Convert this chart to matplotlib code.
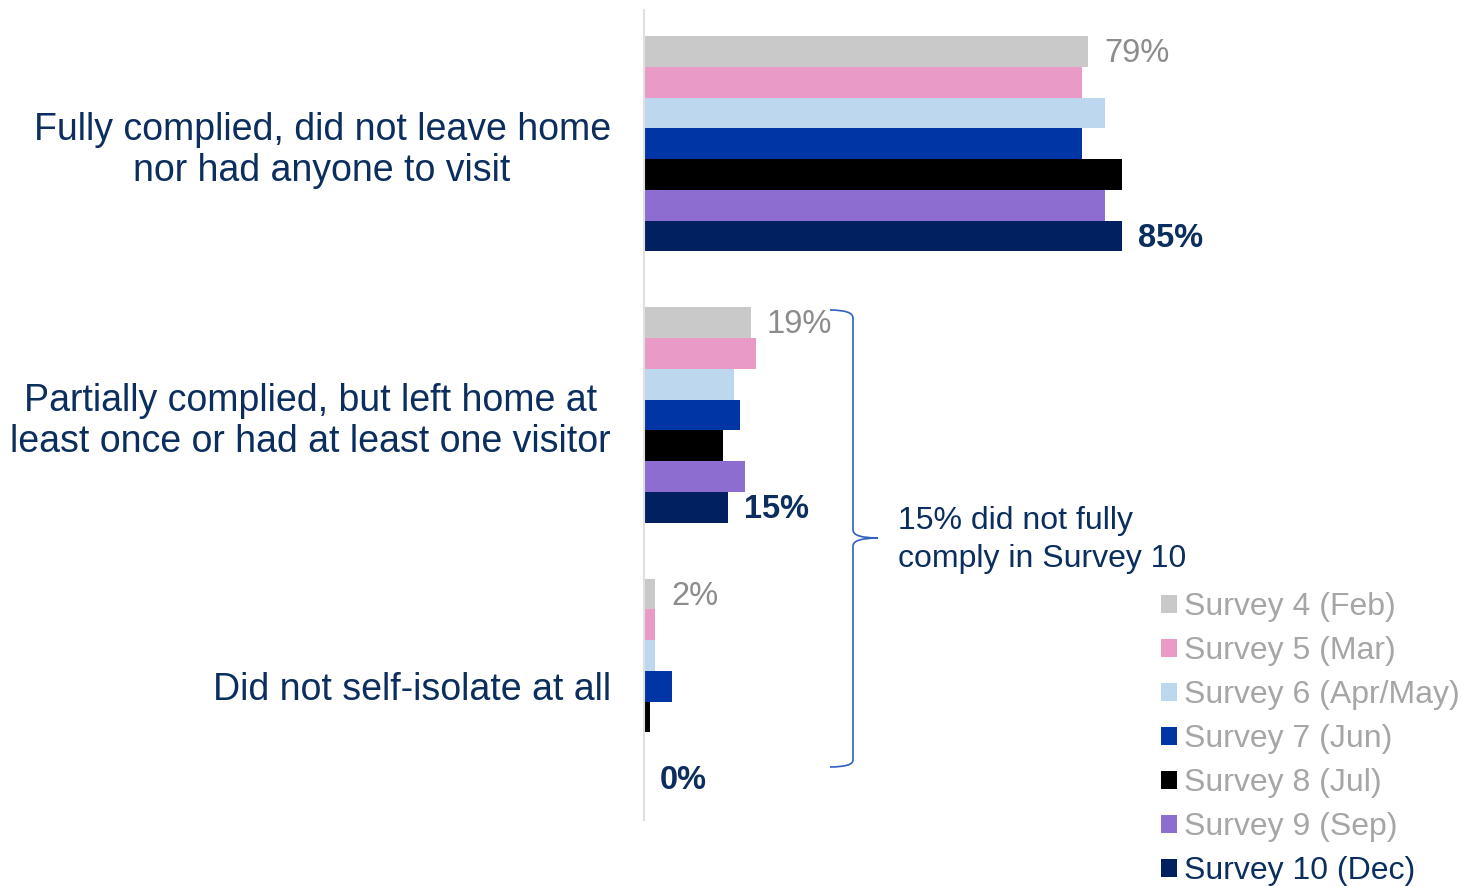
import numpy as np
import matplotlib.pyplot as plt
from matplotlib.path import Path
from matplotlib.patches import PathPatch

plt.rcParams["font.family"] = ["Liberation Sans", "DejaVu Sans"]

categories = [
    "Fully complied, did not leave home\nnor had anyone to visit",
    "Partially complied, but left home at\nleast once or had at least one visitor",
    "Did not self-isolate at all",
]
surveys = [
    "Survey 4 (Feb)",
    "Survey 5 (Mar)",
    "Survey 6 (Apr/May)",
    "Survey 7 (Jun)",
    "Survey 8 (Jul)",
    "Survey 9 (Sep)",
    "Survey 10 (Dec)",
]
# per survey: [fully, partially, not at all]
s4 = [79, 19, 2]
s5 = [78, 20, 2]
s6 = [82, 16, 2]
s7 = [78, 17, 5]
s8 = [85, 14, 1]
s9 = [82, 18, 0]
s10 = [85, 15, 0]
values = [s4, s5, s6, s7, s8, s9, s10]

colors = ["#c9c9c9", "#ea9ac6", "#bdd7ee", "#0035a5", "#000000", "#8e6dd0", "#002060"]
navy = "#0b2e5e"
grey_txt = "#8c8c8c"
legend_txt = "#a6a6a6"

W, H = 1461, 886
fig = plt.figure(figsize=(W / 100, H / 100), dpi=100)
ax = fig.add_axes([644 / W, 66 / H, 562 / W, 810 / H])

bar_h = 0.1133
y = np.arange(len(categories))
bars = []
for i, (name, vals) in enumerate(zip(surveys, values)):
    pos = y + (i - 3) * bar_h
    b = ax.barh(pos, vals, height=bar_h, color=colors[i], label=name)
    bars.append(b)
    if i == 0:
        for p, v in zip(pos, vals):
            ax.annotate(f"{v}%", xy=(v, p), xytext=(11.5, -1.5), textcoords="offset points",
                        va="center", ha="left", fontsize=23.5, color=grey_txt)
    if i == len(surveys) - 1:
        for p, v in zip(pos, vals):
            ax.annotate(f"{v}%", xy=(v, p), xytext=(11.5, -1.5), textcoords="offset points",
                        va="center", ha="left", fontsize=23.5, color=navy, fontweight="bold")

ax.set_xlim(0, 100)
ax.set_ylim(2.493, -0.493)
ax.set_yticks(y)
ax.set_yticklabels(categories, fontsize=27, color=navy, multialignment="center",
                   linespacing=1.18)
ax.tick_params(axis="y", length=0, pad=24)
ax.set_xticks([])
for side in ["top", "right", "bottom"]:
    ax.spines[side].set_visible(False)
ax.spines["left"].set_color("#e0e0e0")
ax.spines["left"].set_linewidth(1.5)

# overlay in pixel units for the brace and its note
ov = fig.add_axes([0, 0, 1, 1], facecolor="none")
ov.set_xlim(0, W)
ov.set_ylim(H, 0)
ov.axis("off")
verts = [
    (830, 310), (853, 310), (853, 318),
    (853, 530),
    (853, 538), (878, 538),
    (853, 538), (853, 546),
    (853, 760),
    (853, 767), (830, 767),
]
codes = [Path.MOVETO, Path.CURVE3, Path.CURVE3, Path.LINETO,
         Path.CURVE3, Path.CURVE3, Path.CURVE3, Path.CURVE3,
         Path.LINETO, Path.CURVE3, Path.CURVE3]
ov.add_patch(PathPatch(Path(verts, codes), fill=False, edgecolor="#3060c0", lw=1.2))
ov.text(898, 540, "15% did not fully\ncomply in Survey 10", fontsize=23, color=navy,
        va="center", ha="left", linespacing=1.34)

leg = fig.legend(handles=bars, loc="upper left", bbox_to_anchor=(1161 / W, 1 - 592 / H),
                 frameon=False, fontsize=23, handlelength=0.5, handleheight=0.5,
                 handletextpad=0.22, labelspacing=0.44, borderaxespad=0, borderpad=0)
for k, t in enumerate(leg.get_texts()):
    t.set_color(navy if k == len(surveys) - 1 else legend_txt)

fig.savefig("out.png", dpi=100)
